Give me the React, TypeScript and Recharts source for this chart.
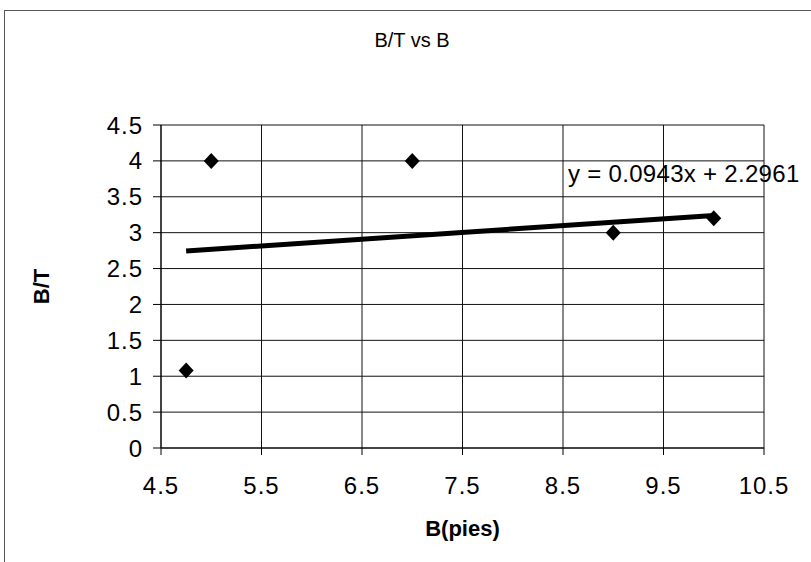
import React from "react";
import {
  ScatterChart,
  Scatter,
  XAxis,
  YAxis,
  CartesianGrid,
  ReferenceLine,
  ReferenceDot,
} from "recharts";

// B (pies) and B/T
const bValues = [4.75, 5, 7, 9, 10];
const btValues = [1.08, 4, 4, 3, 3.2];

const xTicks = [4.5, 5.5, 6.5, 7.5, 8.5, 9.5, 10.5];
const yTicks = [0, 0.5, 1, 1.5, 2, 2.5, 3, 3.5, 4, 4.5];

// linear trendline as printed on the chart
const slope = 0.0943;
const intercept = 2.2961;
const equationText = "y = 0.0943x + 2.2961";

const font = "'Liberation Sans', Arial, sans-serif";

const points = bValues.map((b, i) => ({ b, bt: btValues[i] }));
const xMin = Math.min(...bValues);
const xMax = Math.max(...bValues);
const trendSegment = [
  { x: xMin, y: slope * xMin + intercept },
  { x: xMax, y: slope * xMax + intercept },
];

const Diamond = (props: any) => {
  const { cx, cy } = props;
  if (cx == null || cy == null) return null;
  const w = 7.5;
  const h = 8;
  return (
    <polygon
      points={`${cx},${cy - h} ${cx + w},${cy} ${cx},${cy + h} ${cx - w},${cy}`}
      fill="#000"
    />
  );
};

export default function App() {
  return (
    <div
      style={{
        position: "absolute",
        top: 0,
        left: 0,
        width: 811,
        height: 562,
        overflow: "hidden",
        background: "#fff",
        fontFamily: font,
      }}
    >
      <div
        style={{
          position: "absolute",
          left: 4,
          top: 10,
          width: 900,
          height: 700,
          borderTop: "1px solid #555",
          borderLeft: "1px solid #555",
        }}
      />
      <div
        style={{
          position: "absolute",
          left: 312,
          top: 30,
          width: 200,
          textAlign: "center",
          fontSize: 20,
          lineHeight: "20px",
          color: "#000",
        }}
      >
        B/T vs B
      </div>
      <ScatterChart
        width={811}
        height={562}
        margin={{ top: 125, right: 47, bottom: 54, left: 31 }}
        style={{ position: "absolute", top: 0, left: 0 }}
      >
        <CartesianGrid stroke="#111" strokeWidth={1} />
        <XAxis
          type="number"
          dataKey="b"
          domain={[4.5, 10.5]}
          ticks={xTicks}
          interval={0}
          height={60}
          stroke="#000"
          tickSize={7}
          tickMargin={22}
          tick={{ fill: "#000", fontSize: 24, fontFamily: font, letterSpacing: 1 }}
          label={{
            value: "B(pies)",
            position: "bottom",
            offset: 12,
            fill: "#000",
            fontSize: 22,
            fontWeight: "bold",
            fontFamily: font,
          }}
        />
        <YAxis
          type="number"
          dataKey="bt"
          domain={[0, 4.5]}
          ticks={yTicks}
          interval={0}
          width={130}
          stroke="#000"
          tickSize={8}
          tickMargin={10}
          tick={{ fill: "#000", fontSize: 24, fontFamily: font, letterSpacing: 1 }}
          label={{
            content: (props: any) => {
              const vb = props.viewBox || {};
              const x = (vb.x ?? 0) + 10;
              const y = (vb.y ?? 0) + (vb.height ?? 0) / 2;
              return (
                <text
                  x={x}
                  y={y}
                  transform={`rotate(-90 ${x} ${y})`}
                  textAnchor="middle"
                  dominantBaseline="central"
                  fill="#000"
                  fontSize={22}
                  fontWeight="bold"
                  fontFamily={font}
                >
                  B/T
                </text>
              );
            },
          }}
        />
        <ReferenceLine
          segment={trendSegment}
          stroke="#000"
          strokeWidth={5}
          ifOverflow="visible"
        />
        <ReferenceDot
          x={8.55}
          y={3.706}
          r={0}
          fill="none"
          stroke="none"
          ifOverflow="visible"
          label={{
            content: (props: any) => {
              const vb = props.viewBox || {};
              return (
                <text
                  x={vb.x}
                  y={vb.y}
                  fill="#000"
                  fontSize={24}
                  letterSpacing={0.3}
                  fontFamily={font}
                >
                  {equationText}
                </text>
              );
            },
          }}
        />
        <Scatter data={points} shape={<Diamond />} isAnimationActive={false} />
      </ScatterChart>
    </div>
  );
}
